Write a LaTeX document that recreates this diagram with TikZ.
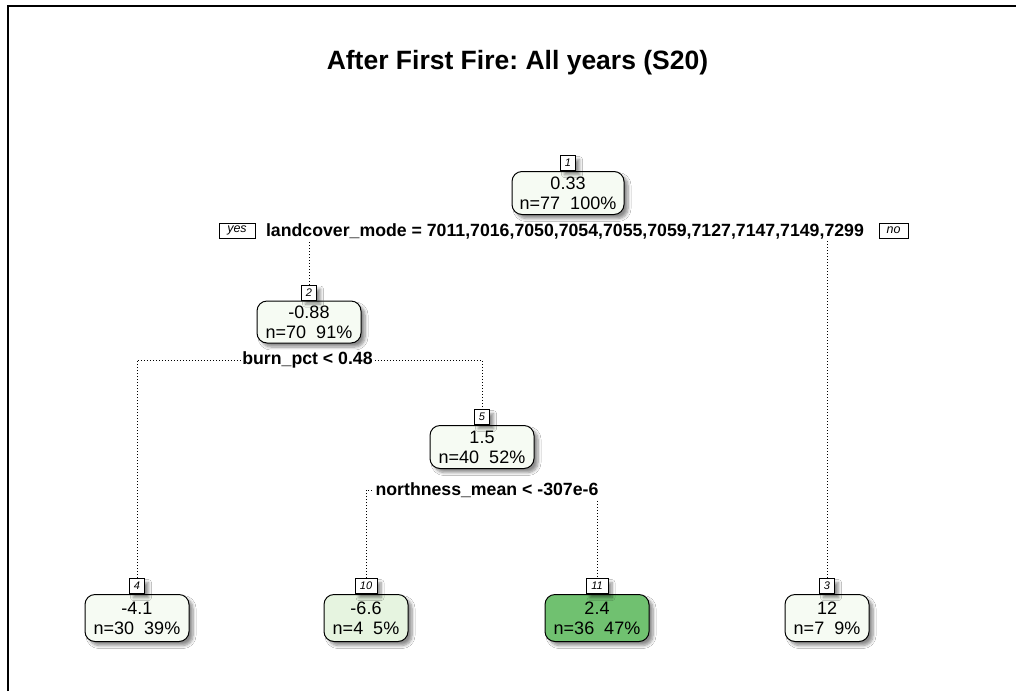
\documentclass[tikz,border=0pt]{standalone}
\usepackage{fontspec}
\setmainfont{Liberation Sans}
\usetikzlibrary{shadows.blur,backgrounds}
\frenchspacing

\definecolor{fillpale}{HTML}{F6FBF3}
\definecolor{fillsoft}{HTML}{E6F4E0}
\definecolor{fillgreen}{HTML}{70C170}

\tikzset{
  softshadow/.style={blur shadow={shadow xshift=4pt, shadow yshift=-4pt,
      shadow blur radius=3pt, shadow blur steps=6, shadow opacity=45}},
  treebox/.style={draw=black, line width=1pt, rounded corners=10pt,
      align=center, inner sep=0pt, softshadow,
      font=\fontsize{18}{20}\selectfont},
  idbox/.style={draw=black, fill=white, line width=0.8pt, anchor=south,
      minimum width=15pt, minimum height=15pt, inner sep=1.5pt, softshadow,
      font=\fontsize{11}{12}\selectfont\itshape},
  yesno/.style={draw=black, fill=white, line width=0.8pt,
      minimum height=15pt, inner sep=1.5pt,
      font=\fontsize{12.5}{13}\selectfont\itshape},
  splitlabel/.style={fill=white, inner sep=1.5pt,
      font=\fontsize{17.7}{19}\selectfont\bfseries},
  branch/.style={line width=1pt, dash pattern=on 1pt off 2pt},
}

\begin{document}
\begin{tikzpicture}[x=1pt,y=-1pt]
\useasboundingbox (0,0) rectangle (1016,691);

% title
\node[font=\fontsize{26.5}{30}\selectfont\bfseries] (title) at (517.5,63)
  {After First Fire: All years (S20)};

% tree nodes
\node[treebox, fill=fillpale, minimum width=112pt, minimum height=43pt]
  (n1) at (568,193) {0.33\\n=77~~100\%};
\node[idbox] (l1) at (n1.north) {1};

\node[treebox, fill=fillpale, minimum width=104pt, minimum height=42pt]
  (n2) at (309,322) {-0.88\\n=70~~91\%};
\node[idbox] (l2) at (n2.north) {2};

\node[treebox, fill=fillpale, minimum width=104pt, minimum height=43pt]
  (n5) at (482,447) {1.5\\n=40~~52\%};
\node[idbox] (l5) at (n5.north) {5};

\node[treebox, fill=fillpale, minimum width=104pt, minimum height=47pt]
  (n4) at (137,618) {-4.1\\n=30~~39\%};
\node[idbox] (l4) at (n4.north) {4};

\node[treebox, fill=fillsoft, minimum width=84pt, minimum height=47pt]
  (n10) at (366,618) {-6.6\\n=4~~5\%};
\node[idbox, minimum width=22pt] (l10) at (n10.north) {10};

\node[treebox, fill=fillgreen, minimum width=104pt, minimum height=47pt]
  (n11) at (597,618) {2.4\\n=36~~47\%};
\node[idbox, minimum width=22pt] (l11) at (n11.north) {11};

\node[treebox, fill=fillpale, minimum width=84pt, minimum height=47pt]
  (n3) at (827,618) {12\\n=7~~9\%};
\node[idbox] (l3) at (n3.north) {3};

% split labels
\node[splitlabel] (s1) at (565,231)
  {landcover\_mode = 7011,7016,7050,7054,7055,7059,7127,7147,7149,7299};
\node[yesno, minimum width=36pt] (yes) at (237,230.5) {yes};
\node[yesno, minimum width=29pt] (no) at (893.5,230.5) {no};

\node[splitlabel] (s2) at (307.5,360) {burn\_pct < 0.48};
\node[splitlabel] (s5) at (487,490) {northness\_mean < -307e-6};

% background, frame and branches
\begin{scope}[on background layer]
  \fill[white] (0,0) rectangle (1016,691);
  \draw[line width=2pt] (8,691) -- (8,6) -- (1016,6);
  \draw[branch] (l2.north) |- (s1.center) -| (l3.north);
  \draw[branch] (l4.north) |- (s2.center) -| (l5.north);
  \draw[branch] (l10.north) |- (s5.center) -| (l11.north);
\end{scope}
\end{tikzpicture}
\end{document}
